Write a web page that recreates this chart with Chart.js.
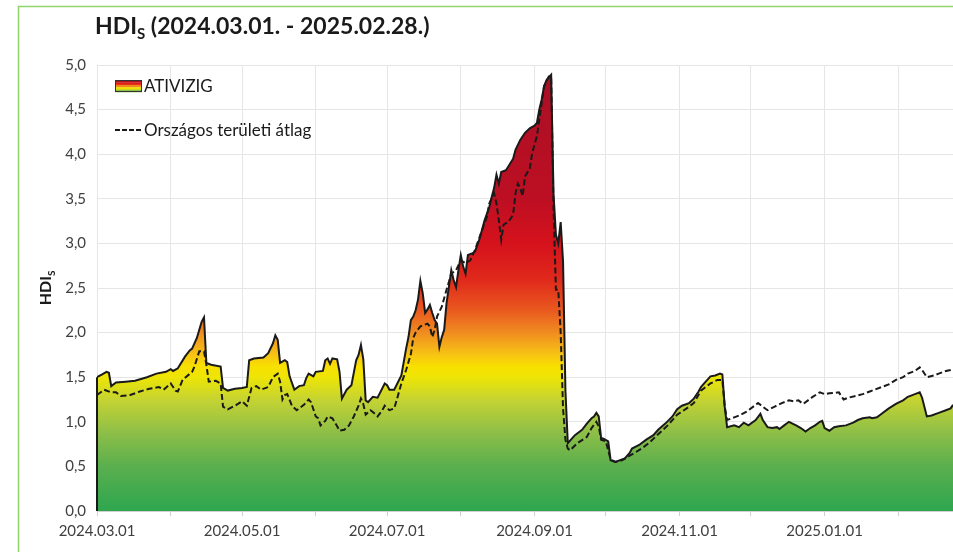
<!DOCTYPE html>
<html>
<head>
<meta charset="utf-8">
<script src="https://cdn.jsdelivr.net/npm/chart.js@4.4.1/dist/chart.umd.min.js"></script>
<style>
  html, body { margin: 0; padding: 0; background: #fff; overflow: hidden; }
  #wrap { width: 953px; height: 552px; }
</style>
</head>
<body>
<div id="wrap"><canvas id="hdi" width="953" height="552"></canvas></div>
<script>
// Days counted from 2024.03.01 (day 0)
const atiDays = [0,2,4,5,6,8,12,16,21,25,29,31,32,34,37,39,40,42,44,45,46,48,52,53,55,58,61,63,64,66,70,72,74,75,76,77,79,80,81,83,85,87,88,89,91,92,95,96,97,98,99,101,102,103,105,107,109,110,111,112,113,114,116,118,121,122,123,125,128,130,131,132,133,134,135,136,137,138,139,140,141,142,143,144,145,146,147,149,150,151,152,153,154,155,156,158,159,161,163,165,166,167,168,169,170,172,175,176,178,180,182,184,185,186,187,188,189,190,191,192,193,194,195,196,197,198,201,204,206,208,209,210,211,212,213,215,216,218,220,222,224,225,228,231,234,236,239,242,244,246,249,251,253,254,256,258,260,262,263,264,265,268,270,272,274,277,279,280,282,284,286,287,289,291,294,296,298,300,302,304,305,306,308,310,312,315,318,320,322,325,326,328,330,333,336,339,341,344,346,347,349,351,354,357,359,360];
const atiValues = [1.50,1.53,1.56,1.55,1.40,1.44,1.45,1.46,1.50,1.54,1.56,1.59,1.57,1.60,1.73,1.80,1.82,1.94,2.12,2.17,1.66,1.64,1.62,1.38,1.35,1.37,1.38,1.39,1.69,1.71,1.72,1.77,1.88,1.97,1.92,1.66,1.69,1.67,1.51,1.36,1.40,1.41,1.49,1.54,1.51,1.56,1.57,1.69,1.71,1.65,1.71,1.70,1.56,1.26,1.36,1.41,1.69,1.75,1.86,1.70,1.24,1.22,1.28,1.27,1.43,1.41,1.36,1.36,1.52,1.82,1.95,2.14,2.18,2.25,2.37,2.58,2.44,2.22,2.26,2.31,2.22,2.14,2.10,1.84,1.95,2.03,2.33,2.70,2.59,2.51,2.70,2.87,2.74,2.66,2.87,2.89,2.91,3.06,3.26,3.41,3.52,3.62,3.77,3.67,3.80,3.82,3.95,4.05,4.16,4.24,4.29,4.32,4.35,4.50,4.61,4.76,4.83,4.86,4.89,3.55,3.10,3.00,3.24,2.80,1.35,0.76,0.85,0.91,0.98,1.04,1.06,1.10,1.06,0.82,0.81,0.78,0.57,0.55,0.57,0.59,0.65,0.70,0.74,0.80,0.85,0.91,0.98,1.06,1.14,1.18,1.21,1.26,1.34,1.39,1.45,1.51,1.52,1.54,1.53,1.17,0.94,0.96,0.94,0.99,0.96,1.02,1.09,1.02,0.94,0.93,0.94,0.92,0.96,1.00,0.96,0.93,0.89,0.93,0.96,1.00,1.01,0.93,0.90,0.94,0.95,0.96,0.99,1.02,1.04,1.05,1.04,1.05,1.09,1.15,1.20,1.24,1.28,1.31,1.33,1.27,1.06,1.07,1.10,1.13,1.15,1.19];

const avgDays = [0,3,6,8,10,14,18,22,26,28,31,33,34,36,40,41,43,45,46,47,50,52,53,55,58,61,63,65,67,69,72,74,76,77,78,79,80,82,84,87,89,90,92,93,94,96,97,99,101,102,104,106,108,110,111,112,113,115,116,118,120,121,123,125,126,128,130,132,133,134,136,137,139,140,141,142,143,145,147,149,151,153,155,157,159,161,164,165,167,168,169,170,171,173,175,176,177,178,179,180,182,183,185,187,188,190,191,192,193,194,195,196,197,198,199,202,206,208,210,211,212,214,216,218,221,224,226,229,232,236,240,244,248,251,254,258,261,263,264,265,268,270,273,276,278,280,282,285,288,291,293,295,297,299,301,304,306,308,312,314,316,319,322,325,327,330,333,336,339,341,344,346,347,349,352,354,357,359,360];
const avgValues = [1.30,1.36,1.33,1.33,1.29,1.30,1.34,1.37,1.39,1.36,1.43,1.35,1.34,1.47,1.56,1.62,1.79,1.79,1.64,1.45,1.46,1.43,1.17,1.14,1.18,1.23,1.18,1.38,1.40,1.36,1.39,1.50,1.54,1.45,1.25,1.30,1.31,1.18,1.13,1.19,1.25,1.22,1.06,1.04,0.96,1.01,1.06,1.04,0.95,0.90,0.91,0.96,1.06,1.18,1.26,1.20,1.08,1.13,1.11,1.06,1.13,1.18,1.13,1.15,1.24,1.43,1.58,1.76,1.94,2.00,2.07,2.08,2.10,2.07,1.95,2.03,2.18,2.29,2.48,2.66,2.70,2.81,2.78,2.81,2.93,3.08,3.30,3.45,3.56,3.45,3.26,3.04,3.21,3.24,3.32,3.56,3.67,3.62,3.53,3.75,3.84,4.01,4.20,4.57,4.76,4.87,4.87,3.40,2.48,2.48,2.00,1.15,0.80,0.70,0.68,0.76,0.83,0.93,1.00,0.95,0.80,0.78,0.58,0.55,0.57,0.62,0.65,0.70,0.76,0.86,0.96,1.08,1.15,1.21,1.35,1.43,1.47,1.47,1.17,1.02,1.05,1.07,1.11,1.17,1.21,1.17,1.13,1.17,1.21,1.24,1.23,1.24,1.20,1.24,1.28,1.33,1.31,1.32,1.33,1.25,1.27,1.29,1.31,1.34,1.36,1.39,1.42,1.47,1.50,1.54,1.57,1.61,1.58,1.50,1.52,1.54,1.57,1.58,1.59];

// Month starts (gridlines) and their date labels, every second month labelled
const monthDays = [0,31,61,92,122,153,184,214,245,275,306,337];
const monthLabels = ['2024.03.01','','2024.05.01','','2024.07.01','','2024.09.01','','2024.11.01','','2025.01.01',''];

const seriesNames = ['ATIVIZIG', 'Országos területi átlag'];

const FONT = 'Lato, "Open Sans", sans-serif';

// Vertical colour ramp of the HDI area (index value -> colour)
const ramp = [
  [0.00, '#2ea64f'], [0.50, '#5aaf4e'], [0.87, '#8cbe48'], [1.24, '#c4d333'],
  [1.50, '#eee506'], [1.62, '#f8e000'], [1.75, '#f7c414'], [2.00, '#f08c20'],
  [2.25, '#e9591f'], [2.60, '#e0281b'], [3.00, '#d5121c'], [3.50, '#bd0f23'],
  [5.00, '#a90f25']
];

function areaGradient(context) {
  const chart = context.chart;
  const { ctx, chartArea, scales } = chart;
  if (!chartArea) return 'rgba(0,0,0,0)';
  const y0 = scales.y.getPixelForValue(0);
  const y5 = scales.y.getPixelForValue(5);
  const g = ctx.createLinearGradient(0, y0, 0, y5);
  ramp.forEach(([v, c]) => g.addColorStop(v / 5, c));
  return g;
}

const toPoints = (xs, ys) => xs.map((d, i) => ({ x: d, y: ys[i] }));

const decor = {
  id: 'decor',
  beforeDraw(chart) {
    const { ctx, width, height } = chart;
    ctx.save();
    ctx.fillStyle = '#ffffff';
    ctx.fillRect(0, 0, width, height);
    ctx.strokeStyle = '#92d36c';
    ctx.lineWidth = 1.5;
    ctx.beginPath();
    ctx.moveTo(18.5, height);
    ctx.lineTo(18.5, 6.5);
    ctx.lineTo(width, 6.5);
    ctx.stroke();
    ctx.restore();
  },
  afterDatasetsDraw(chart) {
    // left edge of the filled area
    const { ctx, scales } = chart;
    const x = scales.x.getPixelForValue(atiDays[0]);
    ctx.save();
    ctx.strokeStyle = '#1a1a1a';
    ctx.lineWidth = 2;
    ctx.beginPath();
    ctx.moveTo(x, scales.y.getPixelForValue(0));
    ctx.lineTo(x, scales.y.getPixelForValue(atiValues[0]));
    ctx.stroke();
    ctx.restore();
  },
  afterDraw(chart) {
    const { ctx, chartArea } = chart;
    ctx.save();
    ctx.fillStyle = '#1a1a1a';
    ctx.textBaseline = 'alphabetic';

    // title with subscript
    const drawSub = (x, y, main, sub, rest, size) => {
      ctx.font = `bold ${size}px ${FONT}`;
      ctx.fillText(main, x, y);
      x += ctx.measureText(main).width;
      ctx.font = `bold ${Math.round(size * 0.65)}px ${FONT}`;
      ctx.fillText(sub, x, y + size * 0.22);
      x += ctx.measureText(sub).width;
      ctx.font = `bold ${size}px ${FONT}`;
      ctx.fillText(rest, x, y);
    };
    ctx.textAlign = 'left';
    drawSub(95, 34, 'HDI', 'S', ' (2024.03.01. - 2025.02.28.)', 23);

    // y axis title
    ctx.save();
    ctx.translate(51, (chartArea.top + chartArea.bottom) / 2);
    ctx.rotate(-Math.PI / 2);
    ctx.font = `bold 16px ${FONT}`;
    const w1 = ctx.measureText('HDI').width;
    ctx.font = `bold 10px ${FONT}`;
    const w2 = ctx.measureText('S').width;
    drawSub(-(w1 + w2) / 2, 0, 'HDI', 'S', '', 16);
    ctx.restore();

    // legend inside the plot
    const lx = chartArea.left + 18;
    const ly1 = chartArea.top + 15;
    const stripes = ['#b0101f', '#e01e18', '#f08a20', '#f2e000', '#8cc043'];
    const sw = 27, sh = 12;
    stripes.forEach((c, i) => {
      ctx.fillStyle = c;
      ctx.fillRect(lx, ly1 + i * sh / stripes.length, sw, sh / stripes.length + 0.3);
    });
    ctx.strokeStyle = '#333';
    ctx.lineWidth = 1;
    ctx.strokeRect(lx + 0.5, ly1 + 0.5, sw - 1, sh - 1);

    ctx.fillStyle = '#1a1a1a';
    ctx.font = `17px ${FONT}`;
    ctx.fillText(seriesNames[0], lx + sw + 2, ly1 + 12);

    const ly2 = chartArea.top + 65;
    ctx.strokeStyle = '#1a1a1a';
    ctx.lineWidth = 2;
    ctx.setLineDash([5, 2]);
    ctx.beginPath();
    ctx.moveTo(lx, ly2);
    ctx.lineTo(lx + sw, ly2);
    ctx.stroke();
    ctx.setLineDash([]);
    ctx.fillText(seriesNames[1], lx + sw + 2, ly2 + 6);
    ctx.restore();
  }
};

new Chart(document.getElementById('hdi'), {
  type: 'line',
  data: {
    datasets: [
      {
        label: seriesNames[1],
        data: toPoints(avgDays, avgValues),
        borderColor: '#1a1a1a',
        borderWidth: 2,
        borderDash: [6, 3],
        pointRadius: 0,
        fill: false,
        tension: 0,
        order: 0
      },
      {
        label: seriesNames[0],
        data: toPoints(atiDays, atiValues),
        borderColor: '#1a1a1a',
        borderWidth: 2,
        backgroundColor: areaGradient,
        pointRadius: 0,
        fill: 'origin',
        tension: 0,
        order: 1
      }
    ]
  },
  options: {
    responsive: false,
    animation: false,
    devicePixelRatio: 1,
    layout: { padding: { top: 65, right: 0, bottom: 0, left: 0 } },
    plugins: {
      legend: { display: false },
      title: { display: false },
      tooltip: { enabled: false }
    },
    scales: {
      x: {
        type: 'linear',
        min: 0,
        max: 360,
        afterBuildTicks: (scale) => { scale.ticks = monthDays.map(v => ({ value: v })); },
        afterFit: (scale) => { scale.height = 41; },
        ticks: {
          autoSkip: false,
          maxRotation: 0,
          padding: 6,
          color: '#404040',
          font: { family: FONT, size: 15 },
          callback: (v, i) => monthLabels[i]
        },
        grid: { color: '#e6e6e6', lineWidth: 1, tickLength: 5, tickColor: '#d0d0d0' },
        border: { display: true, color: '#d0d0d0' }
      },
      y: {
        min: 0,
        max: 5,
        afterFit: (scale) => { scale.width = 97; },
        ticks: {
          stepSize: 0.5,
          padding: 11,
          color: '#404040',
          font: { family: FONT, size: 15 },
          callback: (v) => v.toFixed(1).replace('.', ',')
        },
        grid: { color: '#e6e6e6', lineWidth: 1, drawTicks: false },
        border: { display: false }
      }
    }
  },
  plugins: [decor]
});
</script>
</body>
</html>
